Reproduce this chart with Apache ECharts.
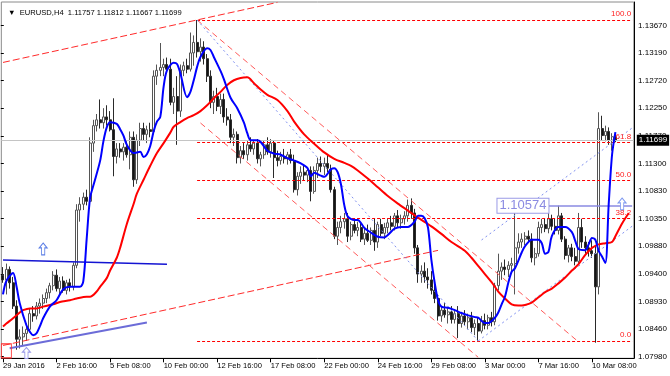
<!DOCTYPE html>
<html><head><meta charset="utf-8">
<script src="https://cdn.jsdelivr.net/npm/echarts@6/dist/echarts.min.js"></script>
<style>html,body{margin:0;padding:0;background:#fff}#c{width:670px;height:376px}</style>
</head><body><div id="c"></div>
<script>
const FONT = 'Liberation Sans, Arial, sans-serif';
const days = ['29 Jan','1 Feb','2 Feb','3 Feb','4 Feb','5 Feb','8 Feb','9 Feb','10 Feb','11 Feb','12 Feb','15 Feb','16 Feb','17 Feb','18 Feb','19 Feb','22 Feb','23 Feb','24 Feb','25 Feb','26 Feb','29 Feb','1 Mar','2 Mar','3 Mar','4 Mar','7 Mar','8 Mar','9 Mar','10 Mar','11 Mar','14 Mar'];
const hours = ['00:00','04:00','08:00','12:00','16:00','20:00'];
const xTickLabels = ['29 Jan 2016','2 Feb 16:00','5 Feb 08:00','10 Feb 00:00','12 Feb 16:00','17 Feb 08:00','22 Feb 00:00','24 Feb 16:00','29 Feb 08:00','3 Mar 00:00','7 Mar 16:00','10 Mar 08:00'];
const yTickLabels = ['1.07980','1.08460','1.08930','1.09400','1.09880','1.10350','1.10830','1.11300','1.11770','1.12250','1.12720','1.13190','1.13670'];

const opens = [1.0938,1.0930,1.0948,1.0925,1.0885,1.0828,1.0832,1.0838,1.0845,1.0872,
1.0868,1.0885,1.0890,1.0898,1.0908,1.0920,1.0938,1.0915,1.0928,1.0912,
1.0925,1.0918,1.0955,1.1050,1.1060,1.1072,1.1065,1.1165,1.1195,1.1205,
1.1200,1.1210,1.1205,1.1188,1.1142,1.1155,1.1150,1.1158,1.1145,1.1175,
1.1102,1.1170,1.1190,1.1180,1.1188,1.1185,1.1280,1.1290,1.1295,1.1300,
1.1292,1.1235,1.1245,1.1220,1.1290,1.1298,1.1292,1.1320,1.1338,1.1322,
1.1330,1.1310,1.1280,1.1235,1.1245,1.1228,1.1240,1.1210,1.1205,1.1175,
1.1180,1.1140,1.1152,1.1145,1.1162,1.1155,1.1165,1.1138,1.1145,1.1162,
1.1150,1.1165,1.1140,1.1135,1.1142,1.1138,1.1145,1.1135,1.1085,1.1108,
1.1115,1.1110,1.1118,1.1082,1.1118,1.1130,1.1125,1.1130,1.1120,1.1085,
1.1005,1.1020,1.1030,1.1035,1.1005,1.1025,1.1015,1.1020,1.1000,1.1010,
1.0998,1.1015,1.0995,1.1025,1.1010,1.1020,1.1028,1.1022,1.1040,1.1028,
1.1035,1.1040,1.1058,1.1045,1.0985,1.0940,1.0945,1.0935,1.0930,1.0912,
1.0898,1.0868,1.0878,1.0870,1.0875,1.0862,1.0872,1.0855,1.0868,1.0858,
1.0865,1.0848,1.0855,1.0842,1.0860,1.0852,1.0865,1.0858,1.0920,1.0945,
1.0952,1.0948,1.0955,1.0958,1.0985,1.0995,1.1000,1.1005,1.1000,1.0968,
1.0975,1.1020,1.1025,1.1018,1.1035,1.1022,1.1015,1.1040,1.1000,1.0972,
1.0985,1.0970,1.0962,1.1020,1.0995,1.0985,1.0980,1.0975,1.0918,1.1190,
1.1178,1.1185,1.1170,1.11757];
const highs = [1.0952,1.0958,1.0953,1.0935,1.0895,1.0845,1.0850,1.0855,1.0880,1.0885,
1.0892,1.0898,1.0905,1.0915,1.0925,1.0945,1.0948,1.0935,1.0936,1.0930,
1.0932,1.0960,1.1060,1.1072,1.1080,1.1085,1.1175,1.1205,1.1215,1.1240,
1.1225,1.1230,1.1220,1.1242,1.1165,1.1165,1.1165,1.1168,1.1185,1.1185,
1.1180,1.1200,1.1200,1.1195,1.1200,1.1290,1.1300,1.1337,1.1310,1.1312,
1.1310,1.1260,1.1280,1.1300,1.1305,1.1310,1.1355,1.1350,1.13765,1.1345,
1.1340,1.1318,1.1290,1.1255,1.1260,1.1250,1.1250,1.1225,1.1215,1.1190,
1.1185,1.1160,1.1165,1.1170,1.1175,1.1170,1.1172,1.1150,1.1170,1.1175,
1.1172,1.1170,1.1152,1.1150,1.1155,1.1150,1.1155,1.1145,1.1115,1.1125,
1.1128,1.1122,1.1125,1.1125,1.1140,1.1142,1.1140,1.1145,1.1128,1.1090,
1.1030,1.1040,1.1045,1.1045,1.1030,1.1035,1.1030,1.1028,1.1018,1.1025,
1.1020,1.1035,1.1030,1.1035,1.1028,1.1035,1.1040,1.1045,1.1050,1.1042,
1.1048,1.1068,1.1070,1.1052,1.0990,1.0955,1.0960,1.0950,1.0945,1.0925,
1.0905,1.0885,1.0890,1.0882,1.0885,1.0880,1.0885,1.0875,1.0878,1.0872,
1.0875,1.0862,1.0865,1.0868,1.0872,1.0870,1.0875,1.0925,1.0975,1.0960,
1.0965,1.0962,1.0968,1.1046,1.1010,1.1010,1.1012,1.1015,1.1010,1.0985,
1.1030,1.1035,1.1035,1.1045,1.1042,1.1035,1.10574,1.1045,1.1005,1.0990,
1.0992,1.0985,1.1045,1.1035,1.1005,1.0995,1.0998,1.0990,1.1218,1.1212,
1.1195,1.1192,1.1182,1.11812];
const lows = [1.0925,1.0905,1.0915,1.0880,1.0810,1.0812,1.0818,1.0825,1.0840,1.0858,
1.0862,1.0872,1.0880,1.0890,1.0898,1.0912,1.0910,1.0905,1.0908,1.0905,
1.0910,1.0912,1.0950,1.1030,1.1050,1.1058,1.1060,1.1150,1.1185,1.1190,
1.1190,1.1195,1.1185,1.1108,1.1130,1.1140,1.1135,1.1140,1.1120,1.1090,
1.1095,1.1160,1.1170,1.1165,1.1175,1.1180,1.1265,1.1280,1.1280,1.1285,
1.1230,1.1215,1.1162,1.1210,1.1280,1.1285,1.1288,1.1298,1.1312,1.1305,
1.1300,1.1270,1.1225,1.1215,1.1220,1.1215,1.1200,1.1195,1.1165,1.1160,
1.1130,1.1130,1.1138,1.1135,1.1150,1.1145,1.1130,1.1125,1.1138,1.1145,
1.1140,1.1105,1.1125,1.1128,1.1130,1.1128,1.1130,1.1080,1.1075,1.1095,
1.1100,1.1098,1.1065,1.1078,1.1105,1.1115,1.1110,1.1115,1.1080,1.1000,
1.0990,1.1010,1.1018,1.0995,1.0998,1.1010,1.1005,1.0995,1.0990,1.0995,
1.0990,1.0980,1.0985,1.1005,1.1000,1.1010,1.1015,1.1015,1.1020,1.1018,
1.1025,1.1030,1.1035,1.0975,1.0925,1.0925,1.0925,1.0915,1.0905,1.0890,
1.0860,1.0858,1.0865,1.0855,1.0855,1.0855,1.0830,1.0848,1.0852,1.0845,
1.0840,1.0835,1.0825,1.0838,1.0845,1.0845,1.0850,1.0852,1.0912,1.0930,
1.0938,1.0935,1.0940,1.0905,1.0975,1.0985,1.0990,1.0995,1.0960,1.0955,
1.0970,1.1010,1.1012,1.1010,1.1015,1.1008,1.1008,1.0995,1.0965,1.0960,
1.0962,1.0955,1.0958,1.0985,1.0975,1.0970,1.0968,1.0822,1.0905,1.1170,
1.1168,1.1162,1.1152,1.11667];
const closes = [1.0930,1.0948,1.0925,1.0885,1.0828,1.0832,1.0838,1.0845,1.0872,1.0868,
1.0885,1.0890,1.0898,1.0908,1.0920,1.0938,1.0915,1.0928,1.0912,1.0925,
1.0918,1.0955,1.1050,1.1060,1.1072,1.1065,1.1165,1.1195,1.1205,1.1200,
1.1210,1.1205,1.1188,1.1142,1.1155,1.1150,1.1158,1.1145,1.1175,1.1102,
1.1170,1.1190,1.1180,1.1188,1.1185,1.1280,1.1290,1.1295,1.1300,1.1292,
1.1235,1.1245,1.1220,1.1290,1.1298,1.1292,1.1320,1.1338,1.1322,1.1330,
1.1310,1.1280,1.1235,1.1245,1.1228,1.1240,1.1210,1.1205,1.1175,1.1180,
1.1140,1.1152,1.1145,1.1162,1.1155,1.1165,1.1138,1.1145,1.1162,1.1150,
1.1165,1.1140,1.1135,1.1142,1.1138,1.1145,1.1135,1.1085,1.1108,1.1115,
1.1110,1.1118,1.1082,1.1118,1.1130,1.1125,1.1130,1.1122,1.1085,1.1005,
1.1020,1.1030,1.1035,1.1005,1.1025,1.1015,1.1020,1.1000,1.1010,1.0998,
1.1015,1.0995,1.1025,1.1010,1.1020,1.1028,1.1022,1.1040,1.1028,1.1035,
1.1040,1.1058,1.1045,1.0985,1.0940,1.0945,1.0935,1.0930,1.0912,1.0898,
1.0868,1.0878,1.0870,1.0875,1.0862,1.0872,1.0855,1.0868,1.0858,1.0865,
1.0848,1.0855,1.0842,1.0860,1.0852,1.0865,1.0858,1.0920,1.0945,1.0952,
1.0948,1.0955,1.0958,1.0985,1.0995,1.1000,1.1005,1.1000,1.0968,1.0975,
1.1020,1.1025,1.1018,1.1035,1.1022,1.1015,1.1040,1.1000,1.0972,1.0985,
1.0970,1.0962,1.1020,1.0995,1.0985,1.0980,1.0975,1.0918,1.1190,1.1178,
1.1185,1.1170,1.1176,1.11699];

const blueIdx = [0,1,3,4,5,7,8,9,10,11,12,14,16,18,20,23,24,25,26,27,29,30,31,32,34,35,36,37,39,41,42,43,44,45,46,47,48,49,51,52,53,55,56,57,58,59,61,62,63,65,66,68,70,72,73,74,76,77,79,81,83,85,87,89,91,92,93,95,96,98,99,100,101,102,103,105,106,108,110,112,114,115,117,119,121,123,124,125,126,127,128,129,130,131,133,135,137,139,141,142,144,145,147,148,149,150,151,152,153,155,156,158,160,161,162,163,164,166,168,170,171,172,174,175,176,177,178,179,180,181,182,183];
const blueVal = [1.0905,1.0928,1.0942,1.0920,1.0890,1.0852,1.0841,1.0835,1.0838,1.0850,
1.0864,1.0884,1.0895,1.0914,1.0918,1.0918,1.0928,1.1000,1.1070,1.1092,
1.1134,1.1168,1.1192,1.1201,1.1198,1.1189,1.1178,1.1162,1.1148,1.1150,
1.1141,1.1146,1.1160,1.1185,1.1202,1.1210,1.1262,1.1290,1.1303,1.1301,
1.1285,1.1244,1.1253,1.1273,1.1296,1.1313,1.1328,1.1325,1.1313,1.1289,
1.1275,1.1243,1.1225,1.1200,1.1182,1.1170,1.1170,1.1167,1.1152,1.1147,
1.1145,1.1139,1.1135,1.1130,1.1122,1.1108,1.1114,1.1109,1.1107,1.1120,
1.1122,1.1115,1.1094,1.1058,1.1039,1.1033,1.1033,1.1019,1.1011,1.1004,
1.1003,1.1007,1.1018,1.1021,1.1021,1.1030,1.1040,1.1040,1.1036,1.1020,
1.0965,1.0925,1.0895,1.0884,1.0882,1.0878,1.0873,1.0869,1.0866,1.0865,
1.0856,1.0856,1.0865,1.0874,1.0888,1.0901,1.0925,1.0944,1.0950,1.0977,
1.0988,1.0999,1.0999,1.0993,1.0975,1.0978,1.1005,1.1021,1.1021,1.1012,
1.0997,1.0983,1.0981,1.0991,1.1002,1.0999,1.0980,1.0970,1.0959,1.1060,
1.1145,1.1184];

const redIdx = [0,1,3,5,6,8,10,12,15,17,20,22,25,26,28,29,31,32,34,35,37,39,40,42,44,46,48,50,51,53,55,57,59,61,63,65,67,69,71,73,75,77,79,82,85,87,90,93,96,99,102,104,106,109,112,115,118,121,124,128,131,134,138,140,142,144,146,148,150,152,154,156,158,160,162,164,166,168,170,172,174,176,178,180,182,183,185,187];
const redVal = [1.0850,1.0855,1.0864,1.0874,1.0878,1.0881,1.0881,1.0884,1.0888,1.0892,
1.0895,1.0898,1.0901,1.0901,1.0910,1.0918,1.0933,1.0946,1.0968,1.0985,
1.1026,1.1060,1.1078,1.1102,1.1126,1.1148,1.1165,1.1183,1.1193,1.1201,
1.1208,1.1213,1.1220,1.1230,1.1242,1.1253,1.1265,1.1273,1.1277,1.1278,
1.1268,1.1257,1.1248,1.1239,1.1220,1.1202,1.1180,1.1164,1.1149,1.1138,
1.1131,1.1126,1.1118,1.1104,1.1089,1.1074,1.1061,1.1049,1.1037,1.1022,
1.1009,1.0995,1.0980,1.0968,1.0954,1.0940,1.0926,1.0910,1.0898,1.0888,
1.0886,1.0887,1.0891,1.0900,1.0909,1.0915,1.0924,1.0934,1.0946,1.0957,
1.0973,1.0985,1.0991,1.0993,1.0995,1.1005,1.1027,1.1045];

const fibLevels = [1.13765, 1.11658, 1.11008, 1.10357, 1.08250];
const fibNames = ['100.0','61.8','50.0','38.2','0.0'];
const lastPrice = 1.11699;
const labelPrice = 1.10574;

const NCAT = 189;
const categories = [];
for (const d of days) for (const h of hours) categories.push(d + ' ' + h);
categories.length = NCAT;

const candleData = opens.map((o, i) => [o, closes[i], lows[i], highs[i]]);
const bluePts = blueIdx.map((x, k) => [x, blueVal[k]]);
const redPts = redIdx.map((x, k) => [x, redVal[k]]);

function seg(a, b, name) { return [{coord: a, name: name || ''}, {coord: b}]; }
const noLbl = {show: false};

const chart = echarts.init(document.getElementById('c'), null, {renderer: 'canvas'});
chart.setOption({
  animation: false,
  backgroundColor: '#fff',
  textStyle: {fontFamily: FONT},
  title: {
    text: '▼  EURUSD,H4  1.11757 1.11812 1.11667 1.11699',
    left: 3, top: 4,
    textStyle: {fontSize: 7.6, fontWeight: 'normal', color: '#000', fontFamily: FONT}
  },
  grid: [
    {left: 0.8, top: 2, width: 633, height: 356.3, show: true, borderColor: '#8a8a8a', borderWidth: 1, backgroundColor: 'transparent'},
    {left: 0.8, top: 2, width: 633, height: 354.7, show: false}
  ],
  xAxis: [
    {type: 'category', gridIndex: 0, data: categories, boundaryGap: true,
     axisLine: {show: true, lineStyle: {color: '#000', width: 1}},
     axisTick: {show: true, alignWithLabel: true, length: 4, lineStyle: {color: '#000'},
       interval: (i) => i % 16 === 0 && i <= 176},
     axisLabel: {interval: (i) => i % 16 === 0 && i <= 176,
       formatter: (v, i) => xTickLabels[Math.round(i / 16)] || '',
       align: 'left', fontSize: 7.6, color: '#000', margin: 4, fontFamily: FONT},
     splitLine: {show: false}},
    {type: 'value', gridIndex: 1, show: false, min: 0, max: 1}
  ],
  yAxis: [
    {type: 'value', gridIndex: 0, position: 'right', min: 1.079525, max: 1.140745,
     axisLine: {show: true, lineStyle: {color: '#000', width: 1}},
     axisTick: {show: false}, axisLabel: {show: false}, splitLine: {show: false}},
    {type: 'value', gridIndex: 1, position: 'right', min: 0, max: 12.851, interval: 1,
     axisLine: {show: false},
     axisTick: {show: true, length: 3, lineStyle: {color: '#000'}},
     axisLabel: {show: true, margin: 6, fontSize: 8, color: '#000', fontFamily: FONT, showMaxLabel: false,
       formatter: (v) => { const k = Math.round(v); return (Math.abs(v - k) < 1e-6 && yTickLabels[k]) ? yTickLabels[k] : ''; }},
     splitLine: {show: false}}
  ],
  series: [
    { // current price line
      type: 'line', xAxisIndex: 0, yAxisIndex: 0, data: [], z: 1, silent: true,
      markLine: {silent: true, symbol: ['none','none'], animation: false, precision: 6,
        lineStyle: {color: '#c4c4c4', type: 'solid', width: 1},
        label: {show: true, position: 'end', distance: 3, formatter: '1.11699', color: '#fff',
          backgroundColor: '#000', padding: [2, 2, 1, 2], fontSize: 8, fontFamily: FONT},
        data: [{yAxis: lastPrice}]}
    },
    { // fibonacci levels
      type: 'line', xAxisIndex: 0, yAxisIndex: 0, data: [], z: 2, silent: true,
      markLine: {silent: true, symbol: ['none','none'], animation: false, precision: 6,
        lineStyle: {color: '#ff0000', type: [3, 2], width: 1},
        label: {show: true, position: 'insideEndTop', formatter: '{b}', color: '#ff2020', fontSize: 8,
          distance: [1, 2], fontFamily: FONT},
        data: fibLevels.map((v, k) => seg([58, v], [188, v], fibNames[k]))}
    },
    { // ascending red channel
      type: 'line', xAxisIndex: 0, yAxisIndex: 0, data: [], z: 2, silent: true,
      markLine: {silent: true, symbol: ['none','none'], animation: false, label: noLbl, precision: 6,
        lineStyle: {color: '#ff2a2a', type: [7, 3], width: 1},
        data: [seg([0, 1.13036], [82, 1.14068]), seg([0, 1.08173], [130, 1.09807])]}
    },
    { // descending red channel
      type: 'line', xAxisIndex: 0, yAxisIndex: 0, data: [], z: 2, silent: true,
      markLine: {silent: true, symbol: ['none','none'], animation: false, label: noLbl, precision: 6,
        lineStyle: {color: '#ff5a5a', type: [6, 4], width: 1},
        data: [seg([58, 1.13765], [172, 1.08234]), seg([59, 1.11996], [142, 1.07970])]}
    },
    { // blue dotted lines
      type: 'line', xAxisIndex: 0, yAxisIndex: 0, data: [], z: 2, silent: true,
      markLine: {silent: true, symbol: ['none','none'], animation: false, label: noLbl, precision: 6,
        lineStyle: {color: '#7f90f0', type: [2, 3], width: 1},
        data: [seg([58, 1.13765], [142, 1.08250]), seg([142, 1.08250], [188, 1.10222]), seg([143, 1.09985], [188, 1.11910])]}
    },
    { // solid trend lines
      type: 'line', xAxisIndex: 0, yAxisIndex: 0, data: [], z: 3, silent: true,
      markLine: {silent: true, symbol: ['none','none'], animation: false, label: noLbl, precision: 6,
        data: [
          [{coord: [0, 1.09642], lineStyle: {color: '#1414d2', width: 1.6, type: 'solid'}}, {coord: [49, 1.09568]}],
          [{coord: [2, 1.08125], lineStyle: {color: '#6c6cd8', width: 2, type: 'solid'}}, {coord: [43, 1.08568]}]
        ]}
    },
    { // price label line 1.10574
      type: 'line', xAxisIndex: 0, yAxisIndex: 0, data: [], z: 3, silent: true,
      markLine: {silent: true, symbol: ['none','none'], animation: false, precision: 6,
        lineStyle: {color: '#8a8ae2', width: 1.5, type: 'solid'},
        label: {show: true, position: 'start', distance: 0, formatter: '1.10574', color: '#8a8ae2',
          fontSize: 13, fontFamily: FONT, backgroundColor: '#fff', borderColor: '#9a9ae6', borderWidth: 1,
          padding: [1, 2, 0, 2]},
        data: [seg([163, labelPrice], [188, labelPrice])]}
    },
    {
      type: 'candlestick', xAxisIndex: 0, yAxisIndex: 0, data: candleData, z: 4, barWidth: 2.5,
      itemStyle: {color: '#ffffff', color0: '#141414', borderColor: '#555555', borderColor0: '#2a2a2a', borderWidth: 1},
      silent: true
    },
    {
      type: 'line', xAxisIndex: 0, yAxisIndex: 0, data: redPts, z: 5, symbol: 'none', smooth: 0.3,
      lineStyle: {color: '#ff0000', width: 2}, silent: true
    },
    {
      type: 'line', xAxisIndex: 0, yAxisIndex: 0, data: bluePts, z: 6, symbol: 'none', smooth: 0.3,
      lineStyle: {color: '#0000ff', width: 2}, silent: true
    },
    { // arrows / markers
      type: 'line', xAxisIndex: 0, yAxisIndex: 0, data: [], z: 7, silent: true,
      markPoint: {silent: true, animation: false, label: {show: false},
        data: [
          {coord: [12, 1.09831], symbol: 'path://M5,0L10,5L7,5L7,12L3,12L3,5L0,5Z', symbolSize: [8, 12],
           itemStyle: {color: '#fff', borderColor: '#5c7fe6', borderWidth: 1}},
          {coord: [7, 1.08044], symbol: 'path://M5,0L10,5L7,5L7,12L3,12L3,5L0,5Z', symbolSize: [8, 11],
           itemStyle: {color: '#fff', borderColor: '#9a9ae8', borderWidth: 1}},
          {coord: [185, 1.10604], symbol: 'path://M5,0L10,5L7,5L7,12L3,12L3,5L0,5Z', symbolSize: [8, 12],
           itemStyle: {color: '#fff', borderColor: '#7f9af0', borderWidth: 1}},
          {coord: [1, 1.08081], symbol: 'rect', symbolSize: [10, 14],
           itemStyle: {color: 'rgba(255,255,255,0)', borderColor: '#ff3030', borderWidth: 1}}
        ]}
    }
  ]
});
</script>
</body></html>
